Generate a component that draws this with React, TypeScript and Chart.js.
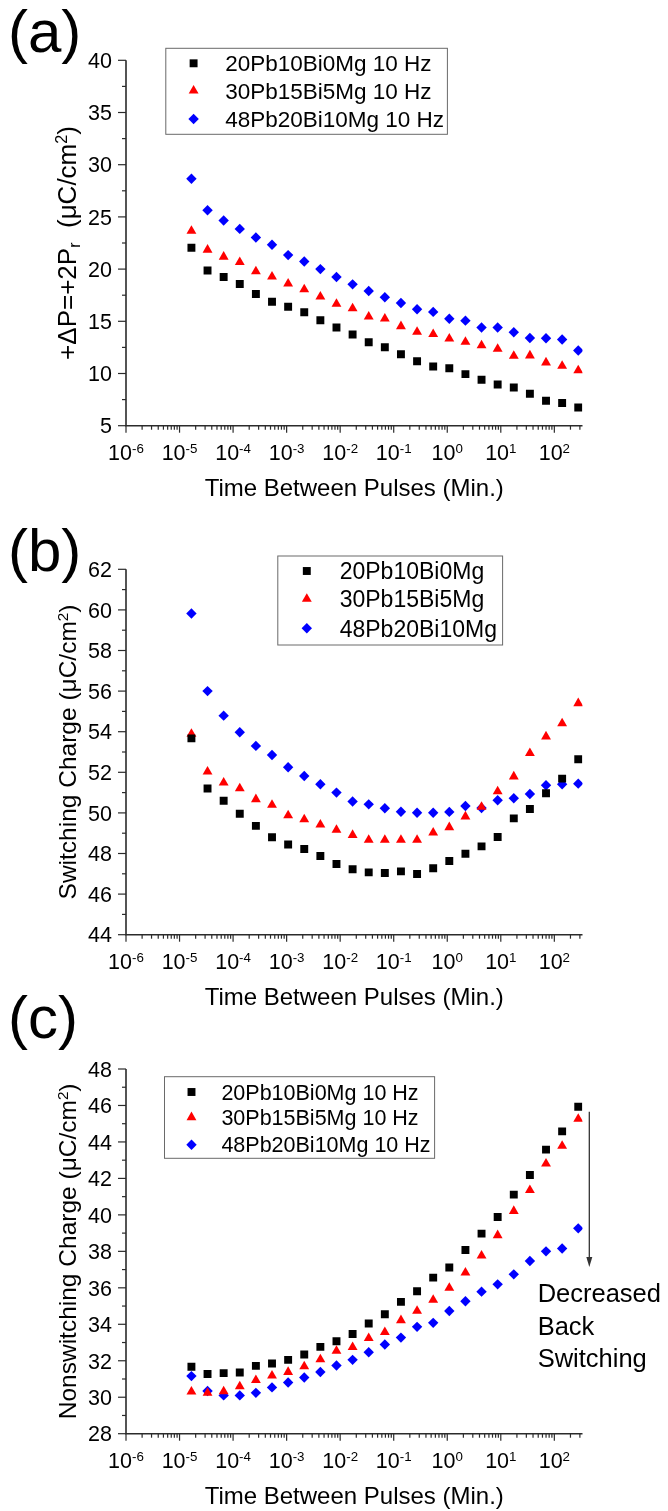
import React, { useEffect, useRef } from 'react';
import { Chart, registerables } from 'chart.js';
import { drawPoint } from 'chart.js/helpers';

Chart.register(...registerables);

// ---------------- DATA ----------------
// time between pulses in minutes (1 ms doubling each step)
const timeBetweenPulsesMin = [
  1.667e-5, 3.333e-5, 6.667e-5, 1.333e-4, 2.667e-4, 5.333e-4, 1.067e-3, 2.133e-3,
  4.267e-3, 8.533e-3, 0.01707, 0.03413, 0.06827, 0.1365, 0.2731, 0.5461, 1.092,
  2.185, 4.369, 8.738, 17.48, 34.95, 69.91, 139.8, 279.6,
];

// (a) +dP = +2Pr (uC/cm2)
const a20Pb10Bi0Mg = [22.05, 19.87, 19.24, 18.57, 17.61, 16.88, 16.4, 15.86, 15.1, 14.4, 13.73, 13.0, 12.52, 11.85, 11.18, 10.67, 10.51, 9.94, 9.4, 8.95, 8.66, 8.06, 7.39, 7.17, 6.75];
const a30Pb15Bi5Mg = [23.65, 21.85, 21.18, 20.67, 19.78, 19.27, 18.6, 18.06, 17.36, 16.66, 16.24, 15.45, 15.25, 14.52, 13.98, 13.76, 13.34, 13.03, 12.68, 12.36, 11.69, 11.72, 11.05, 10.73, 10.29];
const a48Pb20Bi10Mg = [28.66, 25.64, 24.65, 23.85, 23.03, 22.33, 21.34, 20.73, 20.0, 19.24, 18.54, 17.9, 17.3, 16.75, 16.15, 15.9, 15.25, 15.06, 14.4, 14.4, 13.95, 13.4, 13.38, 13.25, 12.2];

// (b) switching charge (uC/cm2)
const b20Pb10Bi0Mg = [53.67, 51.2, 50.6, 49.96, 49.36, 48.8, 48.44, 48.22, 47.88, 47.48, 47.22, 47.07, 47.04, 47.12, 46.99, 47.27, 47.63, 47.99, 48.35, 48.81, 49.73, 50.19, 50.97, 51.69, 52.64];
const b30Pb15Bi5Mg = [53.89, 52.03, 51.49, 51.21, 50.67, 50.39, 49.88, 49.68, 49.42, 49.16, 48.91, 48.67, 48.67, 48.67, 48.67, 49.03, 49.29, 49.82, 50.29, 51.06, 51.79, 52.94, 53.76, 54.41, 55.4];
const b48Pb20Bi10Mg = [59.82, 56.0, 54.79, 53.97, 53.3, 52.85, 52.25, 51.82, 51.41, 51.0, 50.56, 50.42, 50.23, 50.06, 50.01, 50.01, 50.05, 50.34, 50.24, 50.62, 50.72, 50.93, 51.36, 51.41, 51.44];

// (c) nonswitching charge (uC/cm2)
const c20Pb10Bi0Mg = [31.67, 31.27, 31.32, 31.36, 31.72, 31.85, 32.05, 32.34, 32.76, 33.07, 33.47, 34.04, 34.55, 35.23, 35.81, 36.56, 37.11, 38.07, 38.97, 39.88, 41.11, 42.19, 43.58, 44.58, 45.93];
const c30Pb15Bi5Mg = [30.3, 30.24, 30.32, 30.59, 30.94, 31.18, 31.38, 31.69, 32.07, 32.54, 32.74, 33.24, 33.57, 34.22, 34.73, 35.34, 35.99, 36.83, 37.76, 38.88, 40.21, 41.36, 42.81, 43.78, 45.26];
const c48Pb20Bi10Mg = [31.16, 30.34, 30.1, 30.1, 30.24, 30.54, 30.81, 31.08, 31.38, 31.74, 32.05, 32.47, 32.89, 33.27, 33.86, 34.08, 34.73, 35.26, 35.79, 36.19, 36.74, 37.47, 38.0, 38.16, 39.26];

const labels10Hz = ['20Pb10Bi0Mg 10 Hz', '30Pb15Bi5Mg 10 Hz', '48Pb20Bi10Mg 10 Hz'];
const labelsPlain = ['20Pb10Bi0Mg', '30Pb15Bi5Mg', '48Pb20Bi10Mg'];

const xTickExponents = [-6, -5, -4, -3, -2, -1, 0, 1, 2];
const yTicksA = [5, 10, 15, 20, 25, 30, 35, 40];
const yTicksB = [44, 46, 48, 50, 52, 54, 56, 58, 60, 62];
const yTicksC = [28, 30, 32, 34, 36, 38, 40, 42, 44, 46, 48];

const annotationLines = ['Decreased', 'Back', 'Switching'];

// ---------------- STYLE / LAYOUT ----------------
const W = 668;
const H = 1511;
const FONT = '"Liberation Sans", Arimo, Arial, Helvetica, sans-serif';
const AXIS_COLOR = '#2b2b2b';
const X_MAX = 335.7;

const MARKERS = [
  { pointStyle: 'rect', radius: 5.6, color: '#000000' },
  { pointStyle: 'triangle', radius: 5.7, color: '#ff0000' },
  { pointStyle: 'rectRot', radius: 5.2, color: '#0000ff' },
];

type Run = { t: string; sup?: boolean; sub?: boolean };

const X_TITLE: Run[] = [{ t: 'Time Between Pulses (Min.)' }];

const PANELS = [
  {
    key: 'a',
    plot: { left: 126, right: 582.5, top: 60.3, bottom: 425.7 },
    yMin: 5, yMax: 40, yTicks: yTicksA,
    series: [a20Pb10Bi0Mg, a30Pb15Bi5Mg, a48Pb20Bi10Mg],
    labels: labels10Hz,
    legend: { box: [165.8, 48.3, 447.4, 134.3], markerX: 193.6, textX: 225.2, rows: [63.3, 90.7, 119], font: 22.5 },
    yTitle: [{ t: '+ΔP=+2P' }, { t: 'r', sub: true }, { t: '  (μC/cm' }, { t: '2', sup: true }, { t: ')' }] as Run[],
    yTitleSize: 26,
    panelLabel: '(a)', panelLabelY: 52,
    annotate: false,
  },
  {
    key: 'b',
    plot: { left: 126, right: 582.5, top: 569.3, bottom: 934.7 },
    yMin: 44, yMax: 62, yTicks: yTicksB,
    series: [b20Pb10Bi0Mg, b30Pb15Bi5Mg, b48Pb20Bi10Mg],
    labels: labelsPlain,
    legend: { box: [277.8, 556, 502.6, 645], markerX: 306.8, textX: 339.7, rows: [571, 599, 628.3], font: 23 },
    yTitle: [{ t: 'Switching Charge (μC/cm' }, { t: '2', sup: true }, { t: ')' }] as Run[],
    yTitleSize: 24.5,
    panelLabel: '(b)', panelLabelY: 571,
    annotate: false,
  },
  {
    key: 'c',
    plot: { left: 126, right: 582.5, top: 1069, bottom: 1433.7 },
    yMin: 28, yMax: 48, yTicks: yTicksC,
    series: [c20Pb10Bi0Mg, c30Pb15Bi5Mg, c48Pb20Bi10Mg],
    labels: labels10Hz,
    legend: { box: [164.5, 1076.7, 434.6, 1158.3], markerX: 191.5, textX: 221.4, rows: [1092, 1117.3, 1144.7], font: 21.5 },
    yTitle: [{ t: 'Nonswitching Charge (μC/cm' }, { t: '2', sup: true }, { t: ')' }] as Run[],
    yTitleSize: 24.5,
    panelLabel: '(c)', panelLabelY: 1038,
    annotate: true,
  },
];

// annotation of panel (c), in data units
const ARROW = { x: 450, yFrom: 45.66, yTo: 37.14 };
const ANNOT_TEXT = { x: 48.8, ys: [35.22, 33.41, 31.66], size: 25.5 };

// ---------------- DRAWING HELPERS ----------------
function runSize(size: number, r: Run) {
  return r.sup || r.sub ? size * 0.62 : size;
}
function measureRuns(ctx: CanvasRenderingContext2D, runs: Run[], size: number) {
  let w = 0;
  for (const r of runs) {
    ctx.font = `${runSize(size, r)}px ${FONT}`;
    w += ctx.measureText(r.t).width;
  }
  return w;
}
function drawRuns(ctx: CanvasRenderingContext2D, runs: Run[], x: number, y: number, size: number, align: 'left' | 'center' | 'right') {
  const w = measureRuns(ctx, runs, size);
  let cx = align === 'center' ? x - w / 2 : align === 'right' ? x - w : x;
  ctx.textAlign = 'left';
  ctx.textBaseline = 'alphabetic';
  for (const r of runs) {
    ctx.font = `${runSize(size, r)}px ${FONT}`;
    const dy = r.sup ? -size * 0.33 : r.sub ? size * 0.17 : 0;
    ctx.fillText(r.t, cx, y + dy);
    cx += ctx.measureText(r.t).width;
  }
}
function seg(ctx: CanvasRenderingContext2D, x1: number, y1: number, x2: number, y2: number) {
  ctx.beginPath();
  ctx.moveTo(x1, y1);
  ctx.lineTo(x2, y2);
  ctx.stroke();
}

function makePlugin(p: typeof PANELS[number]) {
  return {
    id: 'decor_' + p.key,
    afterDraw(chart: any) {
      const ctx: CanvasRenderingContext2D = chart.ctx;
      const xs = chart.scales.x;
      const ys = chart.scales.y;
      const { left, right, top, bottom } = chart.chartArea;
      ctx.save();

      // axis lines
      ctx.strokeStyle = AXIS_COLOR;
      ctx.lineWidth = 1.6;
      ctx.beginPath();
      ctx.moveTo(left, top);
      ctx.lineTo(left, bottom);
      ctx.lineTo(right, bottom);
      ctx.stroke();

      // x ticks
      ctx.lineWidth = 1.2;
      for (const e of xTickExponents) {
        const v = Math.pow(10, e);
        const px = xs.getPixelForValue(v);
        seg(ctx, px, bottom, px, bottom + 7);
        for (let m = 2; m <= 9; m++) {
          const mv = m * v;
          if (mv > xs.max) break;
          const mp = xs.getPixelForValue(mv);
          seg(ctx, mp, bottom, mp, bottom + 4);
        }
      }
      // y ticks
      const yt = p.yTicks;
      for (let i = 0; i < yt.length; i++) {
        const py = ys.getPixelForValue(yt[i]);
        seg(ctx, left - 8, py, left, py);
        if (i < yt.length - 1) {
          const mp = ys.getPixelForValue((yt[i] + yt[i + 1]) / 2);
          seg(ctx, left - 4, mp, left, mp);
        }
      }

      ctx.fillStyle = '#000';
      // x tick labels
      for (const e of xTickExponents) {
        const px = xs.getPixelForValue(Math.pow(10, e));
        drawRuns(ctx, [{ t: '10' }, { t: String(e), sup: true }], px, bottom + 34, 21.5, 'center');
      }
      // y tick labels
      for (const t of yt) {
        const py = ys.getPixelForValue(t);
        drawRuns(ctx, [{ t: String(t) }], left - 14, py + 0.36 * 21.5, 21.5, 'right');
      }
      // x title
      drawRuns(ctx, X_TITLE, (left + right) / 2, bottom + 70, 24, 'center');
      // y title
      ctx.save();
      ctx.translate(76, (top + bottom) / 2);
      ctx.rotate(-Math.PI / 2);
      drawRuns(ctx, p.yTitle, 0, 0, p.yTitleSize, 'center');
      ctx.restore();
      // panel label
      drawRuns(ctx, [{ t: p.panelLabel }], 8, p.panelLabelY, 60, 'left');

      // legend
      const lg = p.legend;
      ctx.strokeStyle = '#6a6a6a';
      ctx.lineWidth = 1;
      ctx.strokeRect(lg.box[0], lg.box[1], lg.box[2] - lg.box[0], lg.box[3] - lg.box[1]);
      chart.data.datasets.forEach((ds: any, i: number) => {
        const mk = MARKERS[i];
        ctx.fillStyle = mk.color;
        ctx.strokeStyle = mk.color;
        drawPoint(ctx, { pointStyle: mk.pointStyle as any, radius: mk.radius, borderWidth: 0, rotation: 0 } as any, lg.markerX, lg.rows[i]);
        ctx.fillStyle = '#000';
        drawRuns(ctx, [{ t: ds.label }], lg.textX, lg.rows[i] + 0.36 * lg.font, lg.font, 'left');
      });

      // annotation
      if (p.annotate) {
        const ax = xs.getPixelForValue(ARROW.x);
        const ay1 = ys.getPixelForValue(ARROW.yFrom);
        const ay2 = ys.getPixelForValue(ARROW.yTo);
        ctx.strokeStyle = '#333';
        ctx.lineWidth = 1.3;
        seg(ctx, ax, ay1, ax, ay2 - 8);
        ctx.fillStyle = '#333';
        ctx.beginPath();
        ctx.moveTo(ax - 3, ay2 - 10);
        ctx.lineTo(ax + 3, ay2 - 10);
        ctx.lineTo(ax, ay2);
        ctx.closePath();
        ctx.fill();
        ctx.fillStyle = '#000';
        const tx = xs.getPixelForValue(ANNOT_TEXT.x);
        annotationLines.forEach((s, i) => {
          drawRuns(ctx, [{ t: s }], tx, ys.getPixelForValue(ANNOT_TEXT.ys[i]), ANNOT_TEXT.size, 'left');
        });
      }

      ctx.restore();
    },
  };
}

function buildConfig(p: typeof PANELS[number]): any {
  return {
    type: 'scatter',
    data: {
      datasets: p.series.map((vals, i) => ({
        label: p.labels[i],
        data: timeBetweenPulsesMin.map((x, k) => ({ x, y: vals[k] })),
        pointStyle: MARKERS[i].pointStyle,
        pointRadius: MARKERS[i].radius,
        pointHoverRadius: MARKERS[i].radius,
        pointBackgroundColor: MARKERS[i].color,
        pointBorderColor: MARKERS[i].color,
        pointBorderWidth: 0,
        showLine: false,
      })),
    },
    options: {
      responsive: false,
      animation: false,
      devicePixelRatio: 1,
      events: [],
      layout: { padding: { left: 0, top: p.plot.top, right: W - p.plot.right, bottom: 0 } },
      plugins: { legend: { display: false }, tooltip: { enabled: false }, title: { display: false } },
      scales: {
        x: {
          type: 'logarithmic',
          min: 1e-6,
          max: X_MAX,
          grid: { display: false },
          border: { display: false },
          ticks: { display: false },
          afterFit: (s: any) => { s.height = H - p.plot.bottom; },
        },
        y: {
          type: 'linear',
          min: p.yMin,
          max: p.yMax,
          grid: { display: false },
          border: { display: false },
          ticks: { display: false },
          afterFit: (s: any) => { s.width = p.plot.left; },
        },
      },
    },
    plugins: [makePlugin(p)],
  };
}

function Panel({ p }: { p: typeof PANELS[number] }) {
  const ref = useRef<HTMLCanvasElement>(null);
  useEffect(() => {
    if (!ref.current) return;
    const chart = new Chart(ref.current, buildConfig(p));
    return () => chart.destroy();
  }, [p]);
  return (
    <canvas
      ref={ref}
      width={W}
      height={H}
      style={{ position: 'absolute', left: 0, top: 0, width: W, height: H }}
    />
  );
}

export default function App() {
  useEffect(() => {
    document.body.style.margin = '0';
    document.body.style.overflow = 'hidden';
  }, []);
  return (
    <div style={{ position: 'absolute', left: 0, top: 0, width: W, height: H, background: '#fff', overflow: 'hidden' }}>
      {PANELS.map((p) => (
        <Panel key={p.key} p={p} />
      ))}
    </div>
  );
}
